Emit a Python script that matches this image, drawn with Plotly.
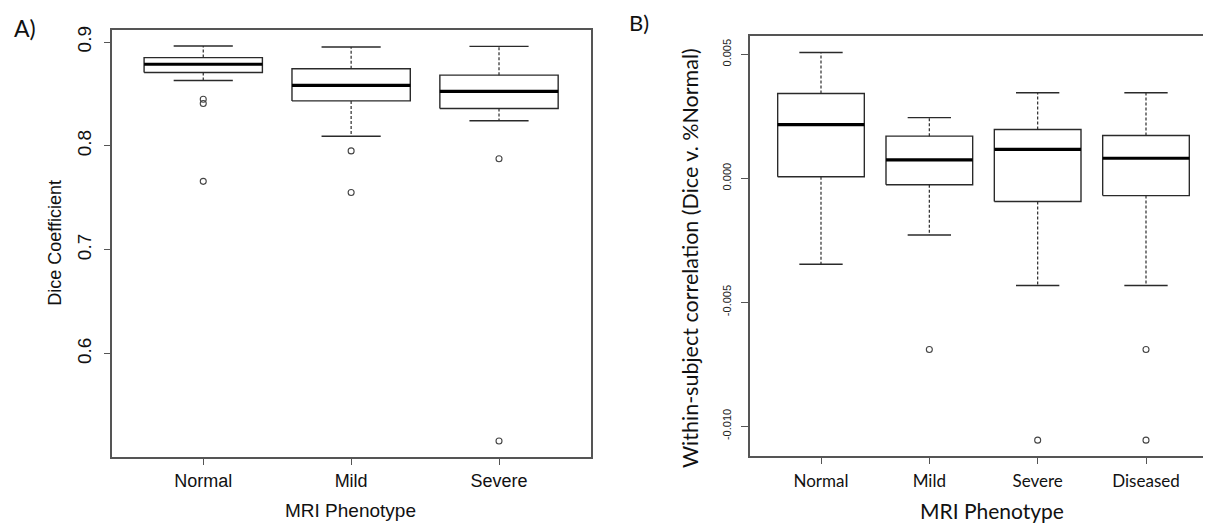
import plotly.graph_objects as go

# ---------------- Data ----------------
# Panel A: Dice coefficient by MRI phenotype
a_categories = ["Normal", "Mild", "Severe"]
a_upper = [0.8962, 0.8952, 0.8958]
a_q3 = [0.8850, 0.8742, 0.8681]
a_median = [0.8786, 0.8583, 0.8525]
a_q1 = [0.8707, 0.8433, 0.8360]
a_lower = [0.8630, 0.8093, 0.8242]
a_outliers = [[0.8449, 0.8408, 0.7659], [0.7952, 0.7551], [0.7876, 0.5160]]
a_ticks = [0.6, 0.7, 0.8, 0.9]
a_ticktext = ["0.6", "0.7", "0.8", "0.9"]

# Panel B: within-subject correlation (Dice v. %Normal)
b_categories = ["Normal", "Mild", "Severe", "Diseased"]
b_upper = [0.005072, 0.002448, 0.003448, 0.003448]
b_q3 = [0.003420, 0.001700, 0.001968, 0.001728]
b_median = [0.002168, 0.000740, 0.001168, 0.000808]
b_q1 = [0.000060, -0.000260, -0.000940, -0.000700]
b_lower = [-0.003472, -0.002288, -0.004328, -0.004328]
b_outliers = [[], [-0.006912], [-0.010568], [-0.006912, -0.010568]]
b_ticks = [-0.010, -0.005, 0.0, 0.005]
b_ticktext = ["-0.010", "-0.005", "0.000", "0.005"]

# ---------------- Style ----------------
OFF = 8  # page body margin
W, H = 1211 - OFF, 523 - OFF
FRAME = "#555555"
BOXC = "#2a2a2a"
BOX_HALF = 0.4
CAP_HALF = 0.2


def px_x(x):
    return (x - OFF) / W


def px_y(y):
    return 1 - (y - OFF) / H


fig = go.Figure()


def add_boxes(cats, upper, q3, med, q1, lower, outl, xa, ya):
    for i, _ in enumerate(cats):
        c = i + 1
        # box
        fig.add_trace(go.Scatter(
            x=[c - BOX_HALF, c + BOX_HALF, c + BOX_HALF, c - BOX_HALF, c - BOX_HALF],
            y=[q1[i], q1[i], q3[i], q3[i], q1[i]],
            mode="lines", line=dict(color=BOXC, width=1.4),
            xaxis=xa, yaxis=ya, hoverinfo="skip"))
        # whiskers (dashed)
        fig.add_trace(go.Scatter(
            x=[c, c, None, c, c],
            y=[q3[i], upper[i], None, q1[i], lower[i]],
            mode="lines", line=dict(color=BOXC, width=1.2, dash="3px,2px"),
            xaxis=xa, yaxis=ya, hoverinfo="skip"))
        # caps
        fig.add_trace(go.Scatter(
            x=[c - CAP_HALF, c + CAP_HALF, None, c - CAP_HALF, c + CAP_HALF],
            y=[upper[i], upper[i], None, lower[i], lower[i]],
            mode="lines", line=dict(color=BOXC, width=1.4),
            xaxis=xa, yaxis=ya, hoverinfo="skip"))
        # median
        fig.add_trace(go.Scatter(
            x=[c - BOX_HALF, c + BOX_HALF], y=[med[i], med[i]],
            mode="lines", line=dict(color="#000000", width=3.2),
            xaxis=xa, yaxis=ya, hoverinfo="skip"))
        # outliers
        if outl[i]:
            fig.add_trace(go.Scatter(
                x=[c] * len(outl[i]), y=outl[i], mode="markers",
                marker=dict(symbol="circle-open", size=6, color="#444444",
                            line=dict(width=1.1, color="#444444")),
                xaxis=xa, yaxis=ya, hoverinfo="skip"))


add_boxes(a_categories, a_upper, a_q3, a_median, a_q1, a_lower, a_outliers, "x", "y")
add_boxes(b_categories, b_upper, b_q3, b_median, b_q1, b_lower, b_outliers, "x2", "y2")

A_FONT = "Liberation Sans, Arial, sans-serif"
B_FONT = "Lato, Open Sans, sans-serif"

axis_common = dict(showline=True, linecolor=FRAME, linewidth=1.5, showgrid=False,
                   zeroline=False, ticks="outside", tickcolor=FRAME, tickwidth=1.2,
                   ticklen=7)

fig.update_layout(
    width=W, height=H,
    margin=dict(l=0, r=0, t=0, b=0),
    paper_bgcolor="white", plot_bgcolor="white",
    showlegend=False,
    xaxis=dict(domain=[px_x(112.3), px_x(590.7)], range=[0.385, 3.62],
               tickvals=[1, 2, 3], ticktext=a_categories, mirror=True,
               tickfont=dict(family=A_FONT, size=18, color="#111"),
               ticklabelstandoff=0, anchor="y", **axis_common),
    yaxis=dict(domain=[px_y(456), px_y(26)], range=[0.501, 0.9117],
               tickvals=a_ticks, ticktext=a_ticktext, tickangle=-90, mirror=True,
               tickfont=dict(family=A_FONT, size=19, color="#111"),
               ticklabelstandoff=5, anchor="x", **axis_common),
    xaxis2=dict(domain=[px_x(749.5), 1.0], range=[0.34, 4.6],
                tickvals=[1, 2, 3, 4], ticktext=b_categories, mirror=True,
                tickfont=dict(family=B_FONT, size=17, color="#111"),
                ticklabelstandoff=2, anchor="y2", **axis_common),
    yaxis2=dict(domain=[px_y(455), px_y(32.3)], range=[-0.011188, 0.005736],
                tickvals=b_ticks, ticktext=b_ticktext, tickangle=-90, mirror=False,
                tickfont=dict(family=A_FONT, size=11, color="#222"),
                ticklabelstandoff=5, anchor="x2", **axis_common),
)

annots = [
    dict(text="A)", x=24.5, y=24, size=23, family=B_FONT, angle=0),
    dict(text="B)", x=639, y=19, size=22, family=B_FONT, angle=0),
    dict(text="MRI Phenotype", x=350, y=510.5, size=19, family=A_FONT, angle=0),
    dict(text="Dice Coefficient", x=55.5, y=241, size=18, family=A_FONT, angle=-90),
    dict(text="MRI Phenotype", x=991.7, y=510.5, size=21, family=B_FONT, angle=0),
    dict(text="Within-subject correlation (Dice v. %Normal)", x=690, y=256,
         size=21.5, family=B_FONT, angle=-90),
]
for a in annots:
    fig.add_annotation(text=a["text"], x=px_x(a["x"]), y=px_y(a["y"]),
                       xref="paper", yref="paper", xanchor="center", yanchor="middle",
                       showarrow=False, textangle=a["angle"],
                       font=dict(family=a["family"], size=a["size"], color="#111"))

fig.write_html("out.html")
